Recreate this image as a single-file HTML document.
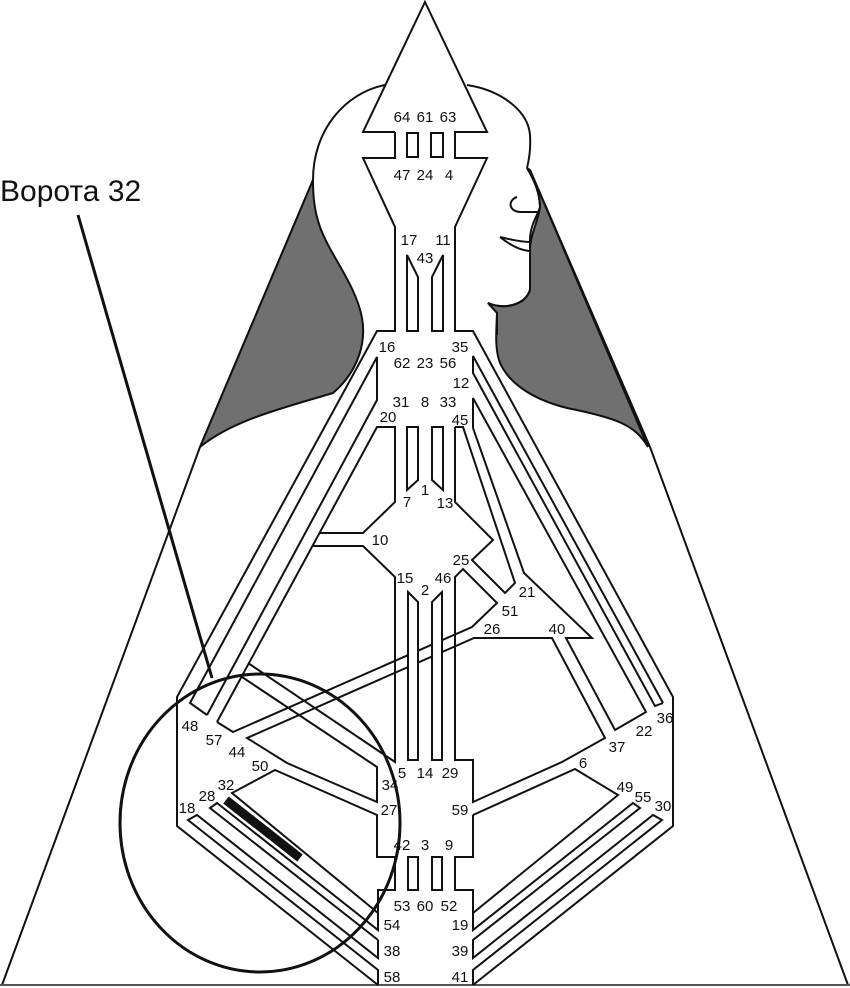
<!DOCTYPE html>
<html><head><meta charset="utf-8"><style>
html,body{margin:0;padding:0;background:#fff;}
svg{display:block;}
text{font-family:"Liberation Sans",Arial,sans-serif;font-size:15px;fill:#111;text-anchor:middle;}
</style></head><body>
<svg width="850" height="988" viewBox="0 0 850 988" xmlns="http://www.w3.org/2000/svg">
<g fill="none" stroke="#111" stroke-width="2">
<polyline points="2,985 200,447 313,180"/>
<polyline points="848,985 650,447 530,170"/>
<line x1="0" y1="985" x2="850" y2="985" stroke="#555"/>
</g>
<path d="M313,180 L200,447 C233,420 283,408 333,393 C360,370 366,340 362,318 C356,285 330,255 320,227 C314,210 313,195 313,180 Z" fill="#707070" stroke="#111" stroke-width="2"/>
<path d="M530,170 L648,447 C635,425 617,418 567,408 C535,400 510,385 500,363 C495,350 496,335 497,313 L488,303 C505,310 525,305 530,290 L530,250 C530,235 538,222 540,207 C540,193 534,180 527,168 Z" fill="#707070" stroke="#111" stroke-width="2"/>
<g fill="none" stroke="#111" stroke-width="2">
<path d="M385,85 C345,93 313,130 313,180"/>
<path d="M467,85 C500,90 528,110 530,135 C531,150 529,160 527,168"/>
<path d="M527,168 C535,180 540,195 540,207 C538,215 530,225 530,240 L530,290 C525,305 505,310 488,303 L497,313 L497,335"/>
<path d="M517,197 C508,200 508,211 520,212 L538,212"/>
<path d="M500,237 C512,240 522,242 531,242 M500,237 C510,245 520,250 529,251"/>
</g>
<g fill="#fff" stroke="#111" stroke-width="2" stroke-linejoin="miter">
<polyline fill="none" points="395,132 363,132 425,2 487,132 455,132 455,158 487,158 455,227 455,331 473,331 673,697 673,826 473,985"/>
<polyline fill="none" points="395,132 395,158 363,158 395,227 395,331 377,331 177,697 177,826 378,985"/>
<rect x="407" y="133" width="11" height="24"/>
<rect x="431" y="133" width="12" height="24"/>
<polygon points="407,255 418,277 418,331 407,331"/>
<polygon points="443,255 432,277 432,331 443,331"/>
<polygon points="407,427 418,427 418,480 407,490"/>
<polygon points="432,427 443,427 443,490 432,480"/>
<g fill="none">
<polyline points="663,703 473,356 473,373 655,706 663,703"/>
<polyline points="473,398 473,428"/>
<polyline points="473,398 646,712 615,730 566,638 592,638 524,573 473,428"/>
<polyline points="455,427 463,427 515,583 505,593 472,560 493,540 455,502 455,427"/>
<polyline points="207,715 377,400 377,357 190,703 207,715"/>
<polyline points="217,722 377,427 395,427 395,502 363,533 320,533"/>
<polyline points="217,722 233,732 472,627 497,603 463,569 455,577 455,760 473,760 473,802 562,762 605,738 552,638 474,638 247,738 287,763 377,802 377,767 242,677"/>
<polyline points="313,546 363,546 395,577 395,762 248,663"/>
<polyline points="378,913 232,793 275,770 377,815 377,857 395,857 395,890 378,890 378,913 378,930 217,803 210,808 378,940"/>
<polyline points="378,940 378,958 197,815 188,820 378,970 378,985"/>
<polyline points="473,815 575,769 618,795 473,913 473,890 455,890 455,857 473,857 473,815"/>
<polyline points="473,913 473,930 633,803 640,808 473,940 473,958 653,815 662,820 473,970 473,985"/>
</g>
<polygon points="408,592 418,602 418,760 408,760"/>
<polygon points="442,592 432,602 432,760 442,760"/>
<rect x="408" y="857" width="10" height="33"/>
<rect x="432" y="857" width="10" height="33"/>
</g>
<line x1="226" y1="800" x2="300" y2="858" stroke="#111" stroke-width="9"/>
<ellipse cx="260" cy="823" rx="140" ry="149" fill="none" stroke="#111" stroke-width="3"/>
<line x1="78" y1="215" x2="212" y2="678" stroke="#111" stroke-width="3"/>
<text x="0" y="201" style="font-size:30px;text-anchor:start">Ворота 32</text>
<g style="font-size:16px">
<text x="402" y="122">64</text><text x="425" y="122">61</text><text x="448" y="122">63</text>
<text x="402" y="180">47</text><text x="425" y="180">24</text><text x="449" y="180">4</text>
<text x="409" y="245">17</text><text x="443" y="245">11</text><text x="425" y="263">43</text>
<text x="387" y="352">16</text><text x="460" y="352">35</text>
<text x="402" y="368">62</text><text x="425" y="368">23</text><text x="448" y="368">56</text>
<text x="461" y="388">12</text>
<text x="401" y="407">31</text><text x="425" y="407">8</text><text x="448" y="407">33</text>
<text x="388" y="422">20</text><text x="460" y="425">45</text>
<text x="407" y="507">7</text><text x="425" y="495">1</text><text x="445" y="508">13</text>
<text x="380" y="545">10</text><text x="461" y="565">25</text>
<text x="405" y="583">15</text><text x="425" y="595">2</text><text x="443" y="583">46</text>
<text x="527" y="597">21</text><text x="510" y="616">51</text><text x="492" y="634">26</text><text x="557" y="634">40</text>
<text x="190" y="731">48</text><text x="214" y="745">57</text><text x="237" y="757">44</text><text x="260" y="771">50</text>
<text x="226" y="790">32</text><text x="207" y="801">28</text><text x="187" y="813">18</text>
<text x="402" y="778">5</text><text x="425" y="778">14</text><text x="450" y="778">29</text>
<text x="390" y="790">34</text><text x="389" y="815">27</text><text x="460" y="815">59</text>
<text x="583" y="768">6</text><text x="617" y="752">37</text><text x="644" y="736">22</text><text x="665" y="723">36</text>
<text x="625" y="792">49</text><text x="643" y="802">55</text><text x="663" y="811">30</text>
<text x="402" y="850">42</text><text x="425" y="850">3</text><text x="449" y="850">9</text>
<text x="402" y="911">53</text><text x="425" y="911">60</text><text x="449" y="911">52</text>
<text x="392" y="930">54</text><text x="460" y="930">19</text>
<text x="392" y="956">38</text><text x="460" y="956">39</text>
<text x="392" y="982">58</text><text x="460" y="982">41</text>
</g>
</svg>
</body></html>
